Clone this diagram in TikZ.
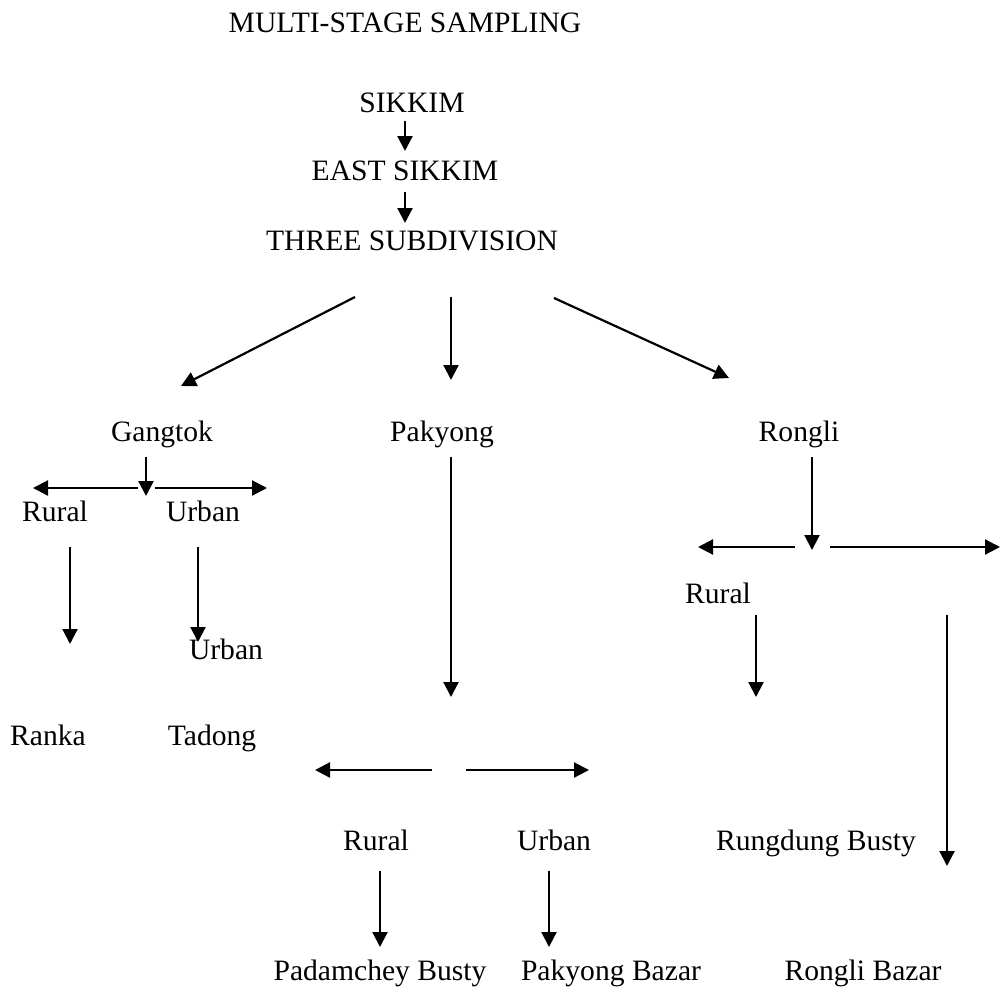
\documentclass[tikz,border=0pt]{standalone}
\usepackage{fontspec}
\setmainfont{Liberation Serif}
\usetikzlibrary{arrows.meta}
\usetikzlibrary{positioning}
\usetikzlibrary{calc}
\tikzset{
	>={Triangle[length=15pt, width=15pt]},
	every node/.style={align=center},
	%
	label/.style={anchor=base, inner sep=0pt, font=\fontsize{29.6}{35}\selectfont},
}

\begin{document}
\begin{tikzpicture}[
			x=1pt, y=-1pt,
			arrow/.style={->, line width=2.2pt},
		]
		\useasboundingbox (0,0) rectangle (1006,993);
		\node (title) [label] at (405,32) {MULTI-STAGE SAMPLING};
		\node (sikkim) [label] at (412,112) {SIKKIM};
		\node (east-sikkim) [label] at (405,180) {EAST SIKKIM};
		\node (three-sub) [label] at (412,250) {THREE SUBDIVISION};
		%
		\node (gangtok) [label] at (162,441) {Gangtok};
		\node (pakyong) [label] at (442,441) {Pakyong};
		\node (rongli) [label] at (799,441) {Rongli};
		%
		\node (g-rural) [label] at (55,521) {Rural};
		\node (g-urban) [label] at (203,521) {Urban};
		\node (g-urban2) [label] at (226,659) {Urban};
		\node (ranka) [label] at (48,745) {Ranka};
		\node (tadong) [label] at (212,745) {Tadong};
		%
		\node (p-rural) [label] at (376,850) {Rural};
		\node (p-urban) [label] at (554,850) {Urban};
		\node (padamchey) [label] at (380,980) {Padamchey Busty};
		\node (pakyong-bazar) [label] at (611,980) {Pakyong Bazar};
		%
		\node (r-rural) [label] at (718,603) {Rural};
		\node (rungdung) [label] at (816,850) {Rungdung Busty};
		\node (rongli-bazar) [label] at (863,980) {Rongli Bazar};
		%
		\coordinate (sikkim-out) at (405,121);
		\coordinate (east-in) at (405,151);
		\coordinate (east-out) at (405,192);
		\coordinate (three-in) at (405,223);
		\coordinate (three-l) at (355,297);
		\coordinate (three-m) at (451,297);
		\coordinate (three-r) at (554,298);
		\coordinate (gangtok-in) at (181,386);
		\coordinate (pakyong-in) at (451,380);
		\coordinate (rongli-in) at (729,378);
		% Gangtok branch
		\coordinate (gangtok-out) at (146,457);
		\coordinate (g-split) at (146,496);
		\coordinate (g-left) at (138,488);
		\coordinate (g-right) at (155,488);
		\coordinate (g-rural-out) at (70,547);
		\coordinate (g-urban-out) at (198,547);
		% Pakyong branch
		\coordinate (pakyong-out) at (451,457);
		\coordinate (p-split) at (451,697);
		\coordinate (p-left) at (432,770);
		\coordinate (p-right) at (466,770);
		\coordinate (p-rural-out) at (380,871);
		\coordinate (p-urban-out) at (549,871);
		% Rongli branch
		\coordinate (rongli-out) at (812,457);
		\coordinate (r-split) at (812,550);
		\coordinate (r-left) at (795,547);
		\coordinate (r-right) at (830,547);
		\coordinate (r-rural-out) at (756,615);
		\coordinate (r-urban-out) at (947,615);
		%
		\draw [arrow] (sikkim-out) -- (east-in);
		\draw [arrow] (east-out) -- (three-in);
		\draw [arrow] (three-l) -- (gangtok-in);
		\draw [arrow] (three-m) -- (pakyong-in);
		\draw [arrow] (three-r) -- (rongli-in);
		%
		\draw [arrow] (gangtok-out) -- (g-split);
		\draw [arrow] (g-left) -- +(-105,0);
		\draw [arrow] (g-right) -- +(112,0);
		\draw [arrow] (g-rural-out) -- +(0,97);
		\draw [arrow] (g-urban-out) -- +(0,95);
		%
		\draw [arrow] (pakyong-out) -- (p-split);
		\draw [arrow] (p-left) -- +(-117,0);
		\draw [arrow] (p-right) -- +(123,0);
		\draw [arrow] (p-rural-out) -- +(0,76);
		\draw [arrow] (p-urban-out) -- +(0,76);
		%
		\draw [arrow] (rongli-out) -- (r-split);
		\draw [arrow] (r-left) -- +(-97,0);
		\draw [arrow] (r-right) -- +(170,0);
		\draw [arrow] (r-rural-out) -- +(0,82);
		\draw [arrow] (r-urban-out) -- +(0,251);
	\end{tikzpicture}
\end{document}
